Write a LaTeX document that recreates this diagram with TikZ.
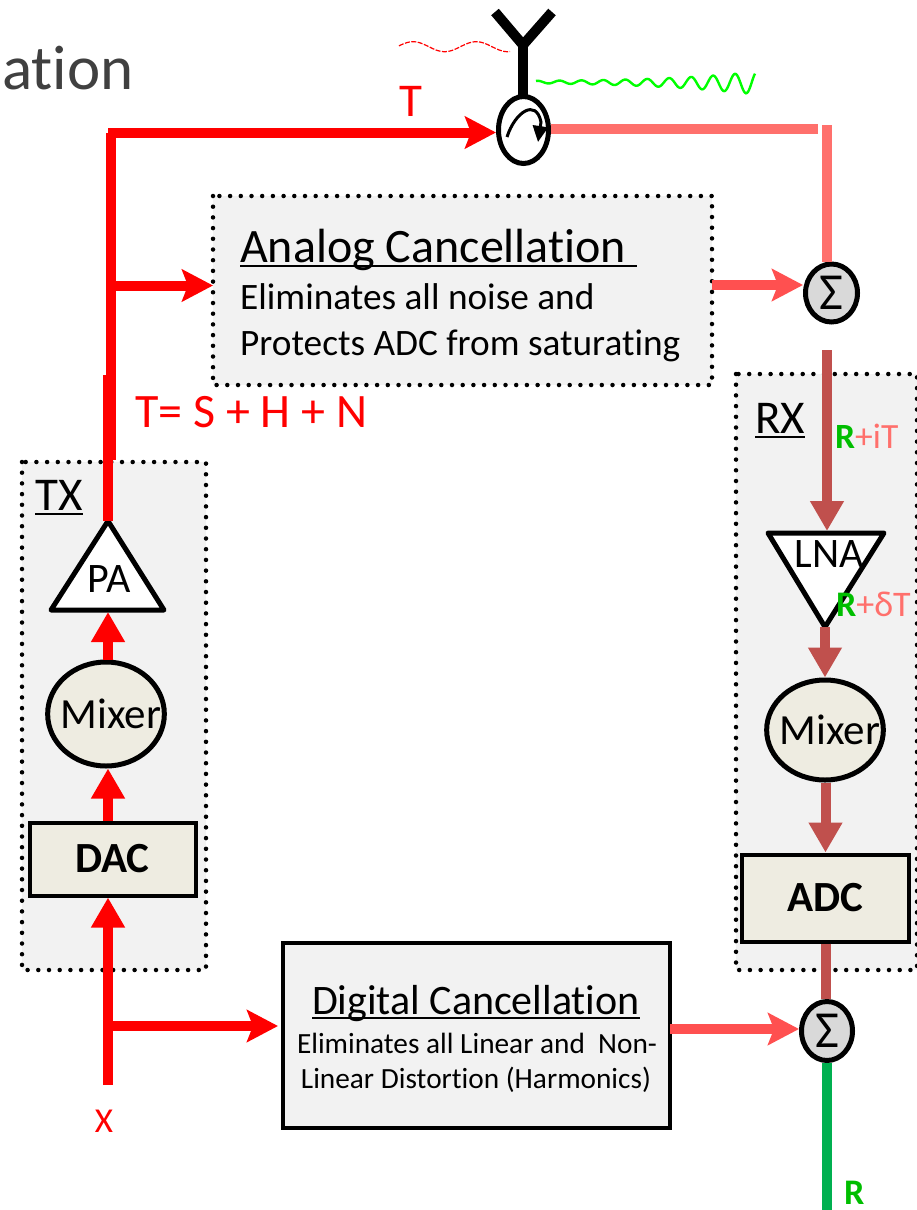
\documentclass[tikz,border=0pt]{standalone}
\usepackage{fontspec}
\setmainfont{Carlito}[Ligatures=NoCommon]
\usetikzlibrary{arrows.meta,shapes.geometric}
\definecolor{txred}{RGB}{255,0,0}
\definecolor{mixred}{RGB}{255,112,108}
\definecolor{canred}{RGB}{255,80,80}
\definecolor{rxred}{RGB}{192,80,77}
\definecolor{rxgreen}{RGB}{0,176,80}
\definecolor{rgreen}{RGB}{0,190,0}
\definecolor{boxgray}{RGB}{242,242,242}
\definecolor{sumgray}{RGB}{217,217,217}
\definecolor{partbeige}{RGB}{238,236,225}
\definecolor{titlegray}{RGB}{64,64,64}
\newcommand{\rlabel}{\textcolor{rgreen}{\textbf{R}}}
\newcommand{\ulabel}[1]{\setbox0=\hbox{#1}\rlap{\rule[-5.2pt]{\wd0}{2.4pt}}\box0}

\begin{document}
\begin{tikzpicture}[x=1pt,y=-1pt,>={Triangle[length=30pt,width=32pt]},
    wire/.style={line width=10pt},
    barbed/.style={-{Stealth[length=31pt,width=32pt,inset=6pt]}},
    chain box/.style={draw=black,dash pattern=on 0pt off 10.7pt,line cap=round,line width=4.5pt,fill=boxgray},
    part box/.style={rectangle,draw,line width=4pt,fill=partbeige,font=\fontsize{43}{43}\selectfont\bfseries,inner sep=0pt},
    mixer node/.style={ellipse,draw,line width=5pt,fill=partbeige,font=\fontsize{43}{43}\selectfont,inner sep=-14pt},
    sum node/.style={ellipse,draw,line width=5pt,fill=sumgray,font=\fontsize{52}{52}\selectfont,inner sep=-11pt},
    amp shape/.style={draw,line width=5pt,line join=round,fill=white},
    head text/.style={anchor=base west,font=\fontsize{48}{48}\selectfont},
    body text/.style={anchor=base west,font=\fontsize{37.3}{37.3}\selectfont},
    small text/.style={anchor=base,font=\fontsize{29.3}{29.3}\selectfont},
    part text/.style={anchor=base,font=\fontsize{42}{42}\selectfont}]

  \useasboundingbox (0,0) rectangle (916,1210);

  \node[anchor=base west,text=titlegray,font=\fontsize{63}{63}\selectfont,inner sep=0pt] (title) at (2,89) {ation};

  \draw[chain box] (213,196) rectangle (712,385);
  \draw[chain box] (22,462) rectangle (206,970);
  \draw[chain box] (736,374) rectangle (917,970);
  \draw[draw=black,line width=4pt,fill=boxgray] (283,943) rectangle (670,1128);
  \coordinate (anchorbox) at (213,285.5);
  \coordinate (anchorout) at (712,285);
  \coordinate (digbox) at (278,1026);
  \coordinate (digout) at (670,1029);

  \draw[line width=10pt,line cap=butt] (523,95) -- (523,44);
  \draw[line width=10pt,line cap=butt,line join=miter] (495,12) -- (523,45) -- (552,12);
  \node[ellipse,draw,line width=5pt,fill=white,minimum width=50pt,minimum height=67pt,inner sep=0pt] (circ) at (523.5,130) {};
  \draw[line width=3pt,-{Triangle[length=16pt,width=15pt]}] (507,137) .. controls (515,112) and (536,98) .. (541,122) -- (538,142);

  \draw[txred,line width=1.2pt,dash pattern=on 5pt off 1.5pt] plot[domain=0:111,samples=60,smooth] ({399+\x},{46.7-5*sin(\x*5.7+10)});
  \draw[green,line width=2.4pt] plot[domain=0:219,samples=220,smooth] ({536+\x},{82+0.005*\x-(1.2+3*(\x/219)+7*(\x/219)*(\x/219)*(\x/219))*sin(\x*16.4+66)});

  \node[sum node,minimum width=52pt,minimum height=58pt] (sumana) at (831.5,293) {Σ};
  \node[sum node,minimum width=51pt,minimum height=59pt] (sumdig) at (827,1031) {Σ};

  \draw[amp shape] (108,521) -- (164,610) -- (51,610) -- cycle;
  \draw[amp shape] (768,533) -- (884,533) -- (825,627) -- cycle;
  \node[part text] (pa) at (109,592) {PA};
  \node[part text] (lna) at (829,567) {LNA};
  \coordinate (patop) at (107.5,521);
  \coordinate (pastep) at (107.5,375);
  \coordinate (pabase) at (108,612);
  \coordinate (lnatop) at (827,531);
  \coordinate (lnatip) at (825,627);

  \node[mixer node,minimum width=114pt,minimum height=104pt] (txmixer) at (106,714) {\hspace*{10pt}Mixer};
  \node[mixer node,minimum width=116pt,minimum height=100pt] (rxmixer) at (825,730) {\hspace*{10pt}Mixer};
  \node[part box,minimum width=166pt,minimum height=73pt] (dac) at (112.5,859) {DAC};
  \node[part box,minimum width=167pt,minimum height=87pt] (adc) at (825.5,898) {ADC};

  \coordinate (xin) at (108,1085);
  \coordinate (txcorner) at (108,132.5);
  \coordinate (txtop) at (110.5,133);
  \coordinate (txjoin) at (110.5,460);
  \coordinate (anabranch) at (110,285.5);
  \coordinate (digbranch) at (108,1026);
  \coordinate (rxbreak) at (818,129);
  \coordinate (rxdrop) at (827,125);
  \coordinate (rxin) at (827,350);
  \coordinate (rxout) at (827,1210);

  \draw[wire,txred] (patop) -- (pastep);
  \draw[wire,txred] (txjoin) -- (txtop);
  \path (txcorner) edge[wire,txred,barbed] (txcorner -| circ.west)
        (anabranch) edge[wire,txred,barbed] (anchorbox)
        (digbranch) edge[wire,txred,barbed] (digbox)
        (anchorout) edge[wire,canred,barbed] (anchorout -| sumana.west)
        (digout) edge[wire,canred,barbed] (digout -| sumdig.west)
        (xin) edge[wire,txred,->] (xin |- dac.south)
        (xin |- dac.north) edge[wire,txred,->] (xin |- txmixer.south)
        (xin |- txmixer.north) edge[wire,txred,->] (pabase)
        (circ.east |- rxbreak) edge[wire,mixred] (rxbreak)
        (rxdrop) edge[wire,mixred] (rxdrop |- sumana.north)
        (rxin) edge[wire,rxred,->] (lnatop)
        (lnatip) edge[wire,rxred,->] (rxmixer.north)
        (rxmixer.south -| adc.north) edge[wire,rxred,->] (adc.north)
        (adc.south) edge[wire,rxred] (adc.south |- sumdig.north)
        (rxdrop |- sumdig.south) edge[wire,rxgreen] (rxout);

  \node[anchor=base,text=txred,font=\fontsize{47}{47}\selectfont] (tlabel) at (411,116) {T};
  \node[anchor=base west,text=txred,inner sep=0pt,font=\fontsize{48}{48}\selectfont] (tsum) at (135,427) {T= S + H + N};
  \node[anchor=base,text=txred,font=\fontsize{35}{35}\selectfont] (xlabel) at (104,1132) {X};

  \node[head text,inner sep=0pt] (anahead) at (240,262) {\ulabel{Analog Cancellation\ }};
  \node[body text,inner sep=0pt] (anaone) at (240,309) {Eliminates all noise and};
  \node[body text,inner sep=0pt] (anatwo) at (240,355) {Protects ADC from saturating};

  \node[anchor=base,font=\fontsize{42}{42}\selectfont] (dighead) at (476,1014) {\ulabel{Digital Cancellation}};
  \node[small text] (digone) at (477,1053) {Eliminates all Linear and\ \ Non-};
  \node[small text] (digtwo) at (476,1088) {Linear Distortion (Harmonics)};

  \node[anchor=base,font=\fontsize{47}{47}\selectfont] (txlabel) at (59,510) {\ulabel{TX}};
  \node[anchor=base,font=\fontsize{47}{47}\selectfont] (rxlabel) at (780,433) {\ulabel{RX}};

  \node[anchor=base west,inner sep=0pt,text=mixred,font=\fontsize{35.5}{35.5}\selectfont] (rxsum) at (835,448) {\rlabel+iT};
  \node[anchor=base west,inner sep=0pt,text=mixred,font=\fontsize{36}{36}\selectfont] (rxdelta) at (836,616) {\rlabel+δT};
  \node[anchor=base west,inner sep=0pt,font=\fontsize{36}{36}\selectfont] (rlabel) at (844,1204) {\rlabel};
\end{tikzpicture}
\end{document}
